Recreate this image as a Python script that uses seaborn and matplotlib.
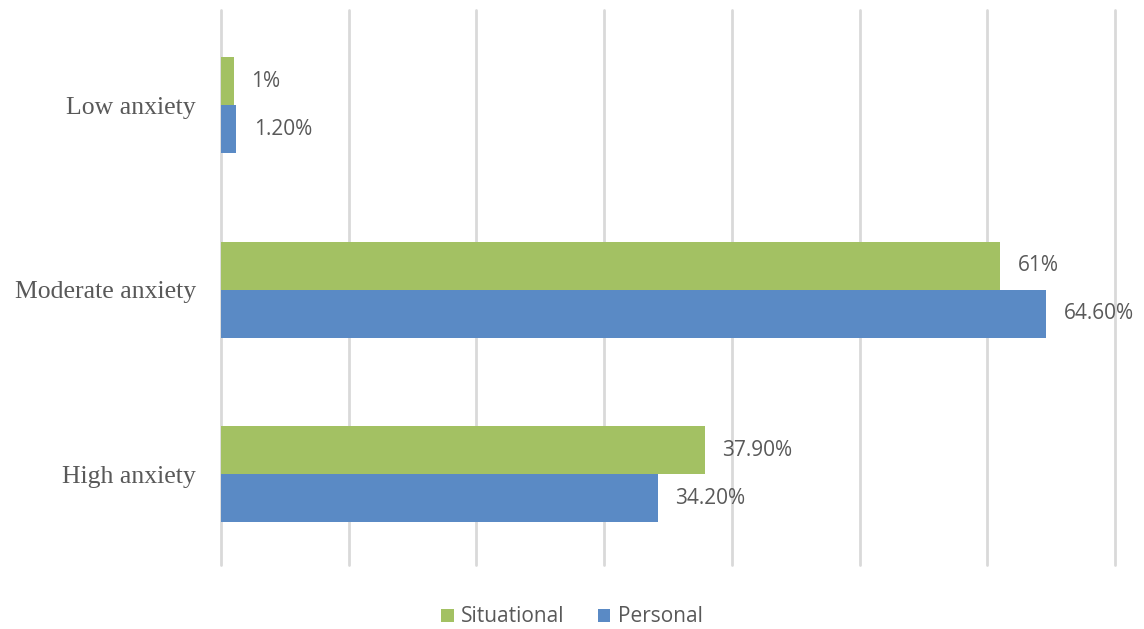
import matplotlib
matplotlib.use('Agg')
import matplotlib.pyplot as plt
import pandas as pd
import seaborn as sns
from matplotlib.patches import Patch

categories = ['Low anxiety', 'Moderate anxiety', 'High anxiety']
series = ['Situational', 'Personal']
situational = [1.0, 61.0, 37.9]
personal = [1.2, 64.6, 34.2]
situational_labels = ['1%', '61%', '37.90%']
personal_labels = ['1.20%', '64.60%', '34.20%']
palette = {'Situational': '#A3C163', 'Personal': '#5A8AC5'}

df = pd.DataFrame({
    'category': categories * 2,
    'series': ['Situational'] * 3 + ['Personal'] * 3,
    'value': situational + personal,
})

sns.set_style('white')
fig = plt.figure(figsize=(11.44, 6.29), dpi=100)
ax = fig.add_axes([221 / 1144, 1 - 565 / 629, (1115 - 221) / 1144, (565 - 10) / 629])

sns.barplot(data=df, x='value', y='category', hue='series', order=categories,
            hue_order=series, palette=palette, orient='h', width=0.52,
            saturation=1, linewidth=0, ax=ax, legend=False)

ax.set_xlim(0, 70)
ax.set_ylim(2.493, -0.515)
ax.set_xticks(range(0, 71, 10))
ax.set_xticklabels([])
ax.tick_params(axis='both', length=0)
ax.grid(axis='x', color='#D9D9D9', linewidth=2)
for gl in ax.get_xgridlines():
    gl.set_clip_on(False)
ax.set_axisbelow(True)
for s in ax.spines.values():
    s.set_visible(False)
ax.set_xlabel('')
ax.set_ylabel('')
ax.set_yticks(range(len(categories)))
ax.set_yticklabels(categories, family='Liberation Serif', fontsize=18.5, color='#595959')
ax.tick_params(axis='y', pad=18)

for cont, labs in zip(ax.containers, [situational_labels, personal_labels]):
    ax.bar_label(cont, labels=labs, padding=12.5, fontsize=15, color='#595959',
                 family='Open Sans')

handles = [Patch(facecolor=palette[s], edgecolor='none') for s in series]
fig.legend(handles, series, loc='center', bbox_to_anchor=(0.5, 1 - 617 / 629),
           ncol=2, frameon=False, handlelength=0.6, handleheight=0.6,
           handletextpad=0.35, columnspacing=1.6,
           prop={'family': 'Open Sans', 'size': 15}, labelcolor='#595959')

fig.savefig('out.png', dpi=100, facecolor='white')
